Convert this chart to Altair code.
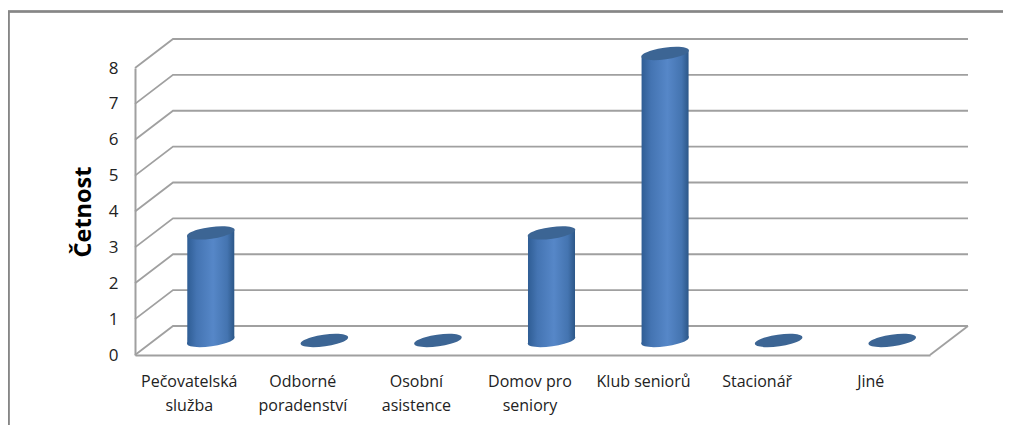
import altair as alt
import pandas as pd

categories = ["Pečovatelská|služba", "Odborné|poradenství", "Osobní|asistence", "Domov pro|seniory", "Klub seniorů", "Stacionář", "Jiné"]
values = [3, 0, 0, 3, 8, 0, 0]
y_ticks = [0, 1, 2, 3, 4, 5, 6, 7, 8]

FONT = "Open Sans"
GRID = "#a0a0a0"
DEPTH_X = 0.3346   # category units
DEPTH_Y = 0.808    # value units
HALF_W = 0.207
SLANT = 0.09
n = len(categories)

# wall/floor lines
grid_rows = []
for v in y_ticks:
    grid_rows += [
        {"k": v, "o": 0, "x": 0, "y": v},
        {"k": v, "o": 1, "x": DEPTH_X, "y": v + DEPTH_Y},
        {"k": v, "o": 2, "x": n + DEPTH_X, "y": v + DEPTH_Y},
    ]
grid_rows += [
    {"k": 99, "o": 0, "x": n + DEPTH_X, "y": DEPTH_Y},
    {"k": 99, "o": 1, "x": n, "y": 0},
]
grid_df = pd.DataFrame(grid_rows)

tops = pd.DataFrame(
    [{"c": categories[i], "x": i + 0.5 + DEPTH_X / 2, "y": values[i] + DEPTH_Y / 2, "b": DEPTH_Y / 2} for i in range(n)]
)
body_rows = []
for i in range(n):
    if values[i] > 0:
        cx = i + 0.5 + DEPTH_X / 2
        for sx in (-1, 1):
            body_rows.append({
                "c": categories[i],
                "x": cx + sx * HALF_W,
                "y": values[i] + DEPTH_Y / 2 + sx * SLANT,
                "y2": DEPTH_Y / 2 + sx * SLANT,
            })
body_df = pd.DataFrame(body_rows)
bottoms = tops[[v > 0 for v in values]]

xs = alt.Scale(domain=[0, n], nice=False, zero=False)
ys = alt.Scale(domain=[0, 8], nice=False, zero=False)
label_js = "[" + ",".join(f"'{c}'" for c in categories) + "]"
x_axis = alt.Axis(
    values=[i + 0.5 for i in range(n)], tickSize=0, grid=False,
    domainColor=GRID, domainWidth=2,
    labelExpr=f"split({label_js}[floor(datum.value)],'|')",
    labelFont=FONT, labelFontSize=16, labelColor="#222222", labelPadding=18,
    labelLineHeight=24, labelAngle=0, labelOverlap=False, labelFlush=False, labelOffset=-3,
)
y_axis = alt.Axis(
    values=y_ticks, tickSize=0, grid=False, domainColor=GRID, domainWidth=2,
    labelFont=FONT, labelFontSize=17, labelColor="#222222", labelPadding=17,
    titleFont=FONT, titleFontSize=23.5, titleFontWeight="bold", titleColor="#000000",
    titlePadding=13,
)
X = lambda f="x": alt.X(f"{f}:Q", scale=xs, axis=x_axis, title=None)
Y = lambda f="y": alt.Y(f"{f}:Q", scale=ys, axis=y_axis, title="Četnost")

cyl = alt.Gradient(
    gradient="linear", x1=0, x2=1, y1=0, y2=0,
    stops=[
        alt.GradientStop(color="#2f5d94", offset=0),
        alt.GradientStop(color="#4474b2", offset=0.2),
        alt.GradientStop(color="#5687c8", offset=0.55),
        alt.GradientStop(color="#4474b0", offset=0.85),
        alt.GradientStop(color="#2c5788", offset=1),
    ],
)
ELLIPSE = "M-0.99,0.14 A1,0.24,-8,1,1,0.99,-0.14 A1,0.24,-8,1,1,-0.99,0.14 Z"

grid = alt.Chart(grid_df).mark_line(color=GRID, strokeWidth=1.8).encode(
    x=X(), y=Y(), detail="k:N", order="o:Q"
)
body = alt.Chart(body_df).mark_area(fill=cyl, opacity=1).encode(
    x=X(), y=Y(), y2="y2:Q", detail="c:N"
)
bottom = alt.Chart(bottoms).mark_point(
    shape=ELLIPSE, filled=True, fill=cyl, opacity=1, strokeWidth=0, size=2300
).encode(x=X(), y=Y("b"))
top = alt.Chart(tops).mark_point(
    shape=ELLIPSE, filled=True, color="#3c6594", opacity=1, strokeWidth=0, size=2300
).encode(x=X(), y=Y())

border_top = alt.Chart(tops).mark_rule(color="#868686", strokeWidth=1.5).encode(
    x=alt.value(-127), x2=alt.value(868), y=alt.value(-56.5)
)
border_left = alt.Chart(tops).mark_rule(color="#868686", strokeWidth=1.5).encode(
    x=alt.value(-126.5), y=alt.value(-57), y2=alt.value(357)
)

chart = (
    alt.layer(grid, body, bottom, top, border_top, border_left)
    .properties(
        width=795, height=287,
        padding={"left": 127, "top": 60, "right": 73, "bottom": 70},
        autosize=alt.AutoSizeParams(type="none"),
        background="white",
    )
    .configure_view(stroke=None)
)
chart.save("out.html", embed_options={"renderer": "svg", "actions": False})
